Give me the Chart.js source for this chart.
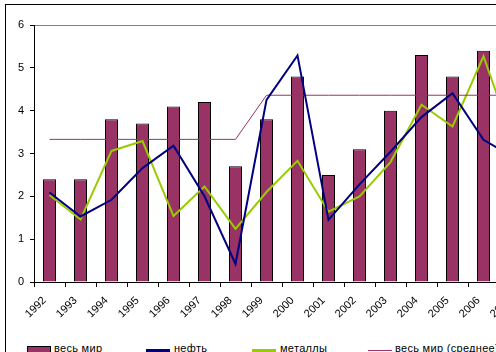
<!DOCTYPE html>
<html>
<head>
<meta charset="utf-8">
<script src="https://cdn.jsdelivr.net/npm/chart.js@4/dist/chart.umd.min.js"></script>
<style>
  html, body { margin: 0; padding: 0; background: #fff; overflow: hidden; width: 496px; height: 352px; }
  #frame { position: absolute; left: 5px; top: 4px; width: 600px; height: 400px; border-left: 1px solid #000; border-top: 1px solid #000; }
  #wrap { position: absolute; left: 0; top: 0; width: 560px; height: 330px; }
  .leg { position: absolute; top: 342px; font: 11px "Liberation Sans", Arial, sans-serif; color: #000; white-space: nowrap; letter-spacing: 0.3px; }
  .sw { position: absolute; }
</style>
</head>
<body>
<div id="frame"></div>
<div id="wrap"><canvas id="c" width="560" height="330"></canvas></div>
<div id="legend"></div>
<script>
const categories = ['1992','1993','1994','1995','1996','1997','1998','1999','2000','2001','2002','2003','2004','2005','2006','2007'];
const worldValues = [2.4, 2.4, 3.8, 3.7, 4.1, 4.2, 2.7, 3.8, 4.8, 2.5, 3.1, 4.0, 5.3, 4.8, 5.4, 5.5];
const oilValues = [2.09, 1.53, 1.92, 2.66, 3.18, 2.0, 0.42, 4.25, 5.29, 1.45, 2.28, 3.04, 3.85, 4.41, 3.32, 2.9];
const metalValues = [2.03, 1.46, 3.06, 3.29, 1.54, 2.23, 1.24, 2.1, 2.83, 1.64, 2.0, 2.8, 4.14, 3.63, 5.27, 3.2];
const worldAvgValues = [3.33, 3.33, 3.33, 3.33, 3.33, 3.33, 3.33, 4.36, 4.36, 4.36, 4.36, 4.36, 4.36, 4.36, 4.36, 4.36];
const seriesNames = ['весь мир', 'нефть', 'металлы', 'весь мир (среднее)'];
const yTicks = [0, 1, 2, 3, 4, 5, 6];

const FONT = '"Liberation Sans", Arial, sans-serif';

new Chart(document.getElementById('c'), {
  data: {
    labels: categories,
    datasets: [
      { type: 'line', label: seriesNames[3], data: worldAvgValues, borderColor: '#993366', borderWidth: 1, pointRadius: 0, tension: 0, order: 1 },
      { type: 'line', label: seriesNames[2], data: metalValues, borderColor: '#99CC00', borderWidth: 2, pointRadius: 0, tension: 0, order: 2 },
      { type: 'line', label: seriesNames[1], data: oilValues, borderColor: '#000080', borderWidth: 2, pointRadius: 0, tension: 0, order: 0 },
      { type: 'bar', label: seriesNames[0], data: worldValues, backgroundColor: '#993366', borderColor: '#000', borderWidth: 1, categoryPercentage: 1, barPercentage: 0.42, order: 5 }
    ]
  },
  options: {
    responsive: false,
    animation: false,
    devicePixelRatio: 1,
    layout: { padding: { left: 0, right: 30, top: 25, bottom: 0 } },
    plugins: { legend: { display: false }, tooltip: { enabled: false } },
    scales: {
      x: {
        offset: true,
        grid: { offset: true, drawOnChartArea: false, drawTicks: true, tickLength: 5, color: '#000', tickColor: '#000' },
        border: { color: '#000', width: 1 },
        ticks: { autoSkip: false, minRotation: 45, maxRotation: 45, color: '#000', font: { family: FONT, size: 11 }, padding: 7, labelOffset: -5 },
        afterFit: (s) => { s.height = 48; }
      },
      y: {
        min: 0, max: 6,
        afterBuildTicks: (s) => { s.ticks = yTicks.map(v => ({ value: v })); },
        grid: { drawTicks: true, tickLength: 4, color: (ctx) => ctx.tick && ctx.tick.value === 6 ? '#808080' : 'rgba(0,0,0,0)', tickColor: '#000' },
        border: { color: '#000', width: 1 },
        ticks: { color: '#000', font: { family: FONT, size: 11 }, padding: 6 },
        afterFit: (s) => { s.width = 34; }
      }
    }
  }
});

// legend
const legendEl = document.getElementById('legend');
const legendItems = [
  { name: seriesNames[0], kind: 'box', color: '#993366', sx: 27, tx: 54 },
  { name: seriesNames[1], kind: 'line', color: '#000080', w: 3, sx: 146, tx: 174 },
  { name: seriesNames[2], kind: 'line', color: '#99CC00', w: 3, sx: 252, tx: 280 },
  { name: seriesNames[3], kind: 'line', color: '#993366', w: 1, sx: 368, tx: 395 }
];
legendItems.forEach(it => {
  const sw = document.createElement('div');
  sw.className = 'sw';
  if (it.kind === 'box') {
    sw.style.cssText = `left:${it.sx}px;top:346px;width:22px;height:8px;background:${it.color};border:1px solid #000;`;
  } else {
    sw.style.cssText = `left:${it.sx}px;top:${350 - Math.floor(it.w/2)}px;width:24px;height:${it.w}px;background:${it.color};`;
  }
  legendEl.appendChild(sw);
  const t = document.createElement('div');
  t.className = 'leg';
  t.style.left = it.tx + 'px';
  t.textContent = it.name;
  legendEl.appendChild(t);
});
</script>
</body>
</html>
